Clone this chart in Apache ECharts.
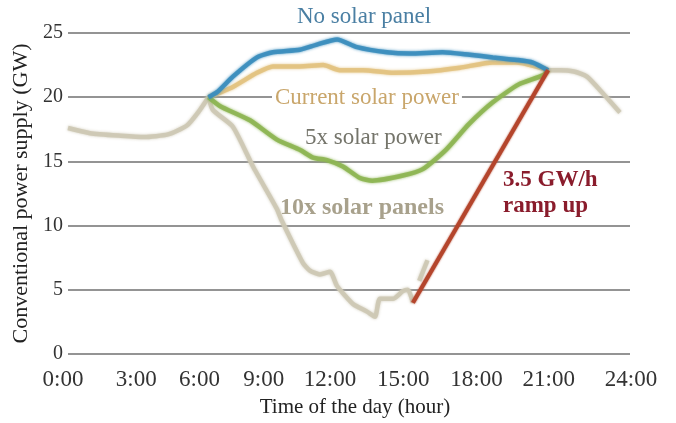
<!DOCTYPE html>
<html>
<head>
<meta charset="utf-8">
<script src="https://cdn.jsdelivr.net/npm/echarts@6/dist/echarts.min.js"></script>
<style>
html, body { margin: 0; padding: 0; background: #fff; }
#chart { width: 676px; height: 423px; }
</style>
</head>
<body>
<div id="chart"></div>
<script>
// hours of day, GW
const xTicks = [0, 3, 6, 9, 12, 15, 18, 21, 24];
const yTicks = [0, 5, 10, 15, 20, 25];

const baseMorning = [[0, 17.6], [0.94, 17.2], [2.26, 17.0], [3.25, 16.9], [4.27, 17.1], [5.08, 17.8], [5.55, 18.8], [6.0, 20.0]];
const baseEvening = [[20.5, 22.1], [21.0, 22.1], [21.6, 22.0], [22.16, 21.6], [22.84, 20.3], [23.57, 18.8]];
const noSolar = [[6.0, 20.0], [6.37, 20.4], [7.04, 21.6], [8.07, 23.1], [8.75, 23.5], [9.9, 23.7], [10.63, 24.1], [11.49, 24.5],
    [12.34, 23.9], [13.62, 23.5], [14.6, 23.4], [16.0, 23.5], [17.16, 23.3], [18.14, 23.1], [19.17, 22.9], [19.85, 22.7], [20.5, 22.1]];
const currentSolar = [[6.0, 20.0], [7.04, 20.8], [8.07, 21.9], [8.75, 22.4], [9.9, 22.4], [10.9, 22.5], [11.6, 22.1], [12.6, 22.1],
    [13.9, 21.9], [15.33, 22.0], [16.74, 22.3], [18.14, 22.7], [19.17, 22.7], [20.5, 22.1]];
const solar5x = [[6.0, 20.0], [6.5, 19.3], [7.77, 18.2], [8.92, 16.7], [9.9, 15.9], [10.46, 15.3], [11.06, 15.1], [11.74, 14.6],
    [12.47, 13.7], [13.0, 13.5], [14.3, 13.9], [15.15, 14.4], [16.14, 15.9], [17.12, 17.9], [18.14, 19.6], [19.25, 21.0], [20.28, 21.7], [20.5, 22.1]];
const solar10x = [[6.0, 20.0], [6.19, 19.0], [7.04, 17.7], [7.9, 14.6], [8.92, 11.3], [9.1, 10.5], [10.03, 7.1], [10.33, 6.5],
    [10.76, 6.2], [11.19, 6.4], [11.49, 5.3], [12.17, 3.9], [12.77, 3.3], [13.11, 2.9], [13.32, 4.3], [13.88, 4.3], [14.3, 4.9], [14.52, 5.0], [14.73, 4.0]];
const solar10xTail = [[15.0, 5.7], [15.35, 7.3]];
const rampUp = [[14.73, 4.0], [20.5, 22.1]];

const serif = "'Liberation Serif', 'DejaVu Serif', serif";

// the source's time labels sit a little left of their ticks
const labelNudge = [-5, -2, -9, -15, -19, -16, -13, -11, 1];
const tickRich = {};
labelNudge.forEach(function (d, i) {
    tickRich["t" + i] = {
        fontFamily: serif,
        fontSize: 23,
        color: "#333",
        padding: [0, d < 0 ? -2 * d : 0, 0, d > 0 ? 2 * d : 0]
    };
});

function lineSeries(name, data, color, z) {
    return {
        name: name,
        type: "line",
        data: data,
        showSymbol: false,
        smooth: 0.2,
        z: z,
        lineStyle: { color: color, width: 4.5, opacity: 0.9, shadowBlur: 3, shadowColor: color }
    };
}

const chart = echarts.init(document.getElementById("chart"));
chart.setOption({
    animation: false,
    backgroundColor: "#fff",
    grid: { left: 68, right: 46, top: 33, bottom: 68 },
    xAxis: {
        type: "value",
        min: 0,
        max: 24,
        interval: 3,
        name: "Time of the day (hour)",
        nameLocation: "middle",
        nameGap: 43,
        nameTextStyle: { fontFamily: serif, fontSize: 21, color: "#222", padding: [0, 0, 0, 12] },
        axisLine: { show: false },
        axisTick: { show: false },
        splitLine: { show: false },
        axisLabel: {
            margin: 14,
            fontFamily: serif,
            fontSize: 23,
            color: "#333",
            rich: tickRich,
            formatter: function (v) {
                return "{t" + xTicks.indexOf(v) + "|" + v + ":00}";
            }
        }
    },
    yAxis: {
        type: "value",
        min: 0,
        max: 25,
        interval: 5,
        name: "Conventional power supply (GW)",
        nameLocation: "middle",
        nameGap: 34,
        nameTextStyle: { fontFamily: serif, fontSize: 22, color: "#222" },
        axisLine: { show: false },
        axisTick: { show: false },
        splitLine: { lineStyle: { color: "#707070", width: 1.5 } },
        axisLabel: { margin: 5, fontFamily: serif, fontSize: 20, color: "#333" }
    },
    series: [
        lineSeries("base morning", baseMorning, "#cdc8b4", 2),
        lineSeries("base evening", baseEvening, "#cdc8b4", 2),
        lineSeries("10x solar panels", solar10x, "#cdc8b4", 3),
        lineSeries("10x tail", solar10xTail, "#cdc8b4", 3),
        lineSeries("Current solar power", currentSolar, "#e2c27f", 4),
        lineSeries("5x solar power", solar5x, "#8db552", 5),
        lineSeries("No solar panel", noSolar, "#3a8dbd", 6),
        {
            name: "ramp up",
            type: "line",
            data: rampUp,
            showSymbol: false,
            z: 7,
            lineStyle: { color: "#b4452c", width: 4, shadowBlur: 2, shadowColor: "#b4452c" }
        }
    ],
    graphic: [
        { type: "text", left: 297, top: 5, z: 10,
          style: { text: "No solar panel", font: "23px " + serif, fill: "#4a7fa3" } },
        { type: "text", left: 272, top: 86, z: 10,
          style: { text: "Current solar power", font: "23px " + serif, fill: "#c9a66b", backgroundColor: "#fff", padding: [0, 3] } },
        { type: "text", left: 305, top: 126, z: 10,
          style: { text: "5x solar power", font: "23px " + serif, fill: "#74746a" } },
        { type: "text", left: 280, top: 196, z: 10,
          style: { text: "10x solar panels", font: "bold 24px " + serif, fill: "#a8a18c" } },
        { type: "text", left: 503, top: 169, z: 10,
          style: { text: "3.5 GW/h", font: "bold 23px " + serif, fill: "#8a1c2c" } },
        { type: "text", left: 503, top: 195, z: 10,
          style: { text: "ramp up", font: "bold 23px " + serif, fill: "#8a1c2c" } }
    ]
});
</script>
</body>
</html>
